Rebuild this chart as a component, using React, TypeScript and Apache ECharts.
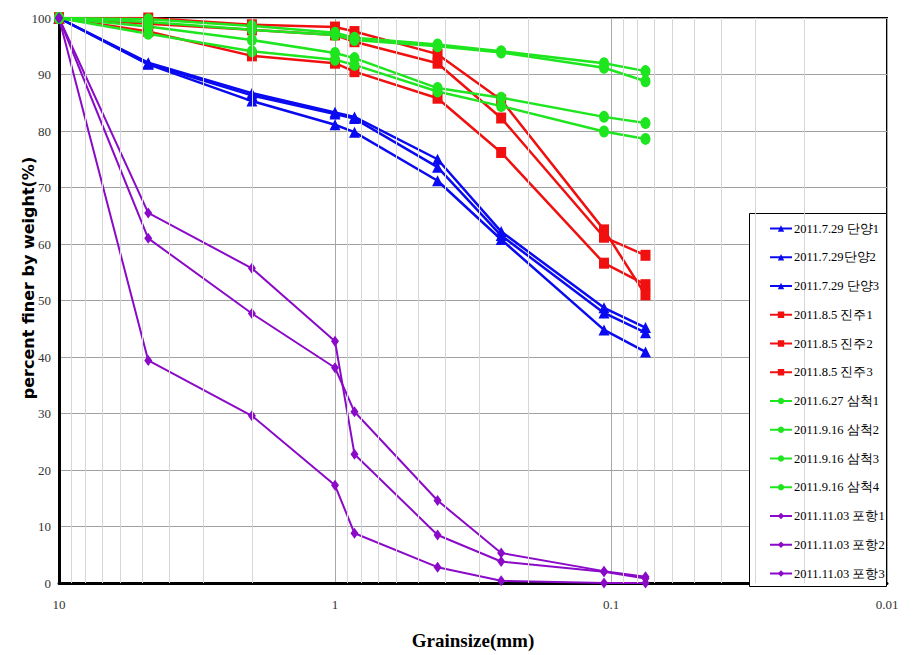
import React, { useEffect, useRef } from "react";
import * as echarts from "echarts";

const sieveSizes = [10, 4.75, 2, 1, 0.85, 0.425, 0.25, 0.106, 0.075];

const seriesNames = [
  "2011.7.29 단양1",
  "2011.7.29단양2",
  "2011.7.29 단양3",
  "2011.8.5 진주1",
  "2011.8.5 진주2",
  "2011.8.5 진주3",
  "2011.6.27 삼척1",
  "2011.9.16 삼척2",
  "2011.9.16 삼척3",
  "2011.9.16 삼척4",
  "2011.11.03 포항1",
  "2011.11.03 포항2",
  "2011.11.03 포항3",
];

const danyang1 = [100, 92.1, 86.7, 83.3, 82.5, 75.0, 62.2, 48.7, 45.2];
const danyang2 = [100, 91.9, 86.3, 83.0, 82.2, 73.6, 61.5, 47.8, 44.3];
const danyang3 = [100, 91.8, 85.3, 81.1, 79.8, 71.2, 60.8, 44.8, 40.9];
const jinju1 = [100, 100, 98.8, 98.4, 97.6, 93.6, 85.5, 62.5, 51.0];
const jinju2 = [100, 99.0, 97.9, 97.0, 95.8, 92.0, 82.3, 61.2, 58.0];
const jinju3 = [100, 97.6, 93.3, 92.0, 90.5, 85.8, 76.2, 56.6, 52.8];
const samcheok1 = [100, 99.8, 98.6, 97.4, 96.5, 95.3, 94.1, 92.0, 90.6];
const samcheok2 = [100, 99.3, 97.9, 97.0, 96.1, 95.0, 93.9, 91.2, 88.8];
const samcheok3 = [100, 98.5, 96.1, 93.8, 92.9, 87.6, 85.9, 82.5, 81.4];
const samcheok4 = [100, 97.2, 94.1, 92.6, 91.7, 87.0, 84.4, 79.9, 78.6];
const pohang1 = [100, 65.5, 55.7, 42.8, 22.8, 8.5, 3.8, 2.0, 0.8];
const pohang2 = [100, 61.0, 47.7, 38.1, 30.3, 14.6, 5.3, 2.1, 1.1];
const pohang3 = [100, 39.4, 29.6, 17.3, 8.8, 2.8, 0.4, 0.0, 0.0];

const seriesValues = [
  danyang1, danyang2, danyang3,
  jinju1, jinju2, jinju3,
  samcheok1, samcheok2, samcheok3, samcheok4,
  pohang1, pohang2, pohang3,
];

const minorGridValues = [
  9, 8, 7, 6, 5, 4, 3, 2,
  0.9, 0.8, 0.7, 0.6, 0.5, 0.4, 0.3, 0.2,
  0.09, 0.08, 0.07, 0.06, 0.05, 0.04, 0.03, 0.02,
];

const BLUE = "#0a0af0";
const RED = "#f01010";
const GREEN = "#1ee61e";
const PURPLE = "#8a0ac8";

function styleFor(i: number) {
  if (i < 3) return { color: BLUE, symbol: "triangle", size: [11, 11] as any, width: 2.5 };
  if (i < 6) return { color: RED, symbol: "rect", size: [10, 11] as any, width: 2.5 };
  if (i < 10) return { color: GREEN, symbol: "circle", size: [10, 12] as any, width: 2.5 };
  return { color: PURPLE, symbol: "diamond", size: [8, 11] as any, width: 2 };
}

export default function App() {
  const ref = useRef<HTMLDivElement>(null);

  useEffect(() => {
    document.body.style.margin = "0";
    if (!ref.current) return;
    const chart = echarts.init(ref.current, null, { renderer: "svg" });

    const dataSeries = seriesNames.map((name, i) => {
      const s = styleFor(i);
      return {
        name,
        type: "line",
        z: 3,
        data: sieveSizes.map((x, k) => [x, seriesValues[i][k]]),
        symbol: s.symbol,
        symbolSize: s.size,
        itemStyle: { color: s.color },
        lineStyle: { color: s.color, width: s.width },
      };
    });

    const gridSeries = {
      name: "minor-grid",
      type: "line",
      z: 1,
      data: [],
      silent: true,
      markLine: {
        silent: true,
        symbol: ["none", "none"],
        label: { show: false },
        lineStyle: { color: "#d6d6d6", width: 1, type: "solid" },
        data: minorGridValues.map((v) => ({ xAxis: v })),
      },
    };

    chart.setOption({
      animation: false,
      backgroundColor: "#ffffff",
      grid: {
        left: 59,
        right: 26,
        top: 18,
        bottom: 68,
        show: true,
        borderColor: "#000",
        borderWidth: 2,
        backgroundColor: "transparent",
      },
      xAxis: {
        type: "log",
        logBase: 10,
        min: 0.01,
        max: 10,
        inverse: true,
        name: "Grainsize(mm)",
        nameLocation: "middle",
        nameGap: 48,
        nameTextStyle: {
          fontFamily: "Liberation Sans Narrow",
          fontWeight: "bold",
          fontSize: 19,
          color: "#000",
        },
        axisLine: { show: true, onZero: false, lineStyle: { color: "#000", width: 3 } },
        axisTick: { show: false },
        axisLabel: {
          margin: 15,
          fontFamily: "Liberation Sans Narrow",
          fontSize: 13,
          color: "#333",
          showMinLabel: true,
          showMaxLabel: true,
          formatter: (v: number) => (v >= 1 ? String(Math.round(v)) : String(+v.toPrecision(1))),
        },
        splitLine: { show: true, lineStyle: { color: "#a8a8a8", width: 1 } },
      },
      yAxis: {
        type: "value",
        min: 0,
        max: 100,
        interval: 10,
        axisLine: { show: true, lineStyle: { color: "#000", width: 3 } },
        axisTick: { show: false },
        axisLabel: {
          margin: 8,
          fontFamily: "Liberation Sans Narrow",
          fontSize: 13,
          color: "#333",
        },
        splitLine: { show: true, lineStyle: { color: "#a0a0a0", width: 1 } },
      },
      legend: {
        data: seriesNames,
        orient: "vertical",
        left: 769,
        top: 221.5,
        padding: 0,
        itemWidth: 22,
        itemHeight: 8,
        itemGap: 14.75,
        z: 10,
        textStyle: {
          fontFamily: "Liberation Sans Narrow",
          fontSize: 12.5,
          color: "#000",
          padding: [0, 0, 0, -3],
          lineHeight: 14,
        },
      },
      graphic: [
        {
          type: "rect",
          z: 5,
          shape: { x: 749.5, y: 213.5, width: 137, height: 373 },
          style: { fill: "#fff", stroke: "#000", lineWidth: 1 },
        },
        {
          type: "text",
          x: 28,
          y: 278,
          rotation: Math.PI / 2,
          style: {
            text: "percent finer by weight(%)",
            fontFamily: "DejaVu Sans",
            fontWeight: "bold",
            fontSize: 16,
            fill: "#000",
            align: "center",
            verticalAlign: "middle",
          },
        },
      ],
      series: [gridSeries, ...dataSeries],
    });

    return () => chart.dispose();
  }, []);

  return <div ref={ref} style={{ width: 913, height: 655 }} />;
}
